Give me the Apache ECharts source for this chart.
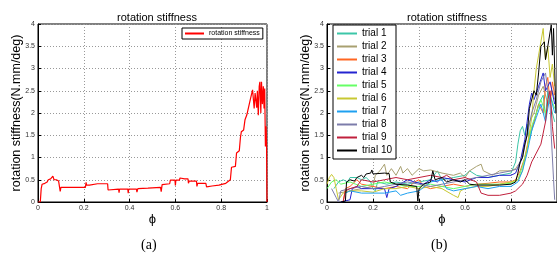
<!DOCTYPE html>
<html>
<head>
<meta charset="utf-8">
<script src="https://cdn.jsdelivr.net/npm/echarts@6/dist/echarts.min.js"></script>
<style>
  html, body { margin: 0; padding: 0; background: #fff; }
  #chart { width: 557px; height: 261px; }
</style>
</head>
<body>
<div id="chart"></div>
<script>
// (a) single run, [phi, stiffness]
const singleRun = [
  [0, 0], [0.01, 0], [0.014, 0.3], [0.018, 0.4], [0.03, 0.42], [0.04, 0.45], [0.045, 0.5],
  [0.055, 0.52], [0.065, 0.58], [0.07, 0.5], [0.08, 0.5], [0.09, 0.47], [0.096, 0.45],
  [0.097, 0.24], [0.1, 0.33], [0.15, 0.33], [0.207, 0.33], [0.21, 0.44], [0.212, 0.38],
  [0.225, 0.38], [0.23, 0.41], [0.26, 0.41], [0.304, 0.41], [0.306, 0.27], [0.31, 0.29],
  [0.352, 0.29], [0.354, 0.21], [0.356, 0.29], [0.392, 0.29], [0.394, 0.2], [0.396, 0.29],
  [0.43, 0.29], [0.432, 0.22], [0.436, 0.3], [0.48, 0.31], [0.535, 0.33], [0.538, 0.23],
  [0.542, 0.39], [0.575, 0.41], [0.578, 0.49], [0.598, 0.49], [0.6, 0.37], [0.602, 0.49],
  [0.618, 0.49], [0.62, 0.54], [0.64, 0.52], [0.655, 0.52], [0.657, 0.42], [0.66, 0.47],
  [0.692, 0.47], [0.694, 0.35], [0.697, 0.42], [0.733, 0.42], [0.736, 0.34], [0.76, 0.36],
  [0.79, 0.38], [0.82, 0.42], [0.84, 0.5], [0.845, 0.78], [0.862, 0.8], [0.867, 1.1],
  [0.879, 1.15], [0.884, 1.45], [0.888, 1.58], [0.898, 1.62], [0.904, 1.85], [0.912, 1.96],
  [0.919, 2.0], [0.927, 2.3], [0.937, 2.52], [0.944, 2.1], [0.948, 2.45], [0.955, 2.12],
  [0.958, 2.5], [0.962, 1.95], [0.966, 2.6], [0.969, 2.7], [0.973, 2.0], [0.976, 2.7],
  [0.98, 2.2], [0.984, 2.6], [0.987, 2.1], [0.99, 2.55], [0.993, 1.25], [0.996, 1.7],
  [0.998, 1.3], [1.0, 0]
];

// (b) ten trials, [phi, stiffness]
const trial1 = [
  [0.03, 0.3], [0.05, 0.45], [0.07, 0.5], [0.09, 0.45], [0.1, 0.55], [0.13, 0.55], [0.15, 0.5],
  [0.17, 0.55], [0.19, 0.45], [0.2, 0.3], [0.21, 0.25], [0.22, 0.45], [0.26, 0.4], [0.3, 0.45],
  [0.35, 0.4], [0.4, 0.45], [0.45, 0.5], [0.48, 0.7], [0.5, 0.5], [0.55, 0.55], [0.6, 0.6],
  [0.62, 0.7], [0.65, 0.6], [0.7, 0.55], [0.75, 0.6], [0.8, 0.65], [0.82, 0.9], [0.83, 1.3],
  [0.84, 1.6], [0.85, 1.7], [0.86, 1.5], [0.87, 1.75], [0.88, 1.4], [0.9, 1.8], [0.92, 2.2],
  [0.94, 2.4], [0.95, 1.9], [0.96, 2.5], [0.98, 2.0], [0.99, 1.8]
];
const trial2 = [
  [0.05, 0.2], [0.1, 0.25], [0.15, 0.3], [0.2, 0.35], [0.21, 0.6], [0.23, 0.7], [0.25, 0.85],
  [0.26, 0.6], [0.28, 0.75], [0.3, 0.6], [0.32, 0.8], [0.33, 0.65], [0.35, 0.75], [0.37, 0.6],
  [0.4, 0.75], [0.42, 0.7], [0.45, 0.72], [0.5, 0.65], [0.55, 0.6], [0.58, 0.65], [0.6, 0.55],
  [0.62, 0.7], [0.65, 0.8], [0.67, 0.85], [0.68, 0.7], [0.7, 0.65], [0.72, 0.6], [0.75, 0.7],
  [0.8, 0.7], [0.82, 0.75], [0.84, 0.9], [0.86, 1.3], [0.88, 1.8], [0.9, 2.0], [0.92, 2.4],
  [0.94, 2.6], [0.96, 2.2], [0.98, 2.5], [0.99, 2.3]
];
const trial3 = [
  [0.07, 0], [0.08, 0.3], [0.1, 0.35], [0.13, 0.5], [0.15, 0.4], [0.2, 0.35], [0.25, 0.3],
  [0.3, 0.35], [0.35, 0.3], [0.38, 0.45], [0.4, 0.5], [0.42, 0.35], [0.45, 0.3], [0.5, 0.35],
  [0.55, 0.4], [0.6, 0.35], [0.65, 0.4], [0.7, 0.42], [0.75, 0.45], [0.8, 0.45], [0.82, 0.5],
  [0.84, 0.7], [0.86, 1.0], [0.88, 1.5], [0.9, 1.8], [0.92, 2.2], [0.94, 2.0], [0.95, 2.6],
  [0.96, 2.8], [0.97, 2.2], [0.98, 2.7], [0.99, 2.4]
];
const trial4 = [
  [0.06, 0], [0.1, 0.05], [0.11, 0.3], [0.13, 0.35], [0.15, 0.3], [0.2, 0.3], [0.25, 0.3],
  [0.26, 0.1], [0.27, 0.3], [0.3, 0.35], [0.35, 0.5], [0.38, 0.45], [0.42, 0.4], [0.45, 0.5],
  [0.48, 0.45], [0.5, 0.55], [0.55, 0.5], [0.6, 0.45], [0.65, 0.55], [0.7, 0.55], [0.75, 0.6],
  [0.8, 0.6], [0.82, 0.65], [0.84, 0.9], [0.86, 1.4], [0.87, 1.8], [0.88, 2.2], [0.89, 2.45],
  [0.9, 2.3], [0.92, 2.6], [0.94, 2.9], [0.95, 2.5], [0.97, 2.7], [0.99, 2.2]
];
const trial5 = [
  [0, 0.3], [0.02, 0.45], [0.04, 0.5], [0.06, 0.4], [0.1, 0.45], [0.15, 0.35], [0.2, 0.4],
  [0.25, 0.45], [0.3, 0.4], [0.35, 0.35], [0.4, 0.35], [0.45, 0.4], [0.5, 0.35], [0.55, 0.3],
  [0.6, 0.35], [0.65, 0.4], [0.7, 0.4], [0.75, 0.4], [0.8, 0.42], [0.83, 0.5], [0.85, 0.8],
  [0.87, 1.2], [0.89, 1.7], [0.91, 2.0], [0.93, 2.3], [0.95, 2.0], [0.97, 2.4], [0.99, 2.1]
];
const trial6 = [
  [0, 0.4], [0.01, 0.55], [0.02, 0.62], [0.03, 0.55], [0.04, 0.3], [0.05, 0.05], [0.07, 0.2],
  [0.1, 0.25], [0.15, 0.25], [0.2, 0.22], [0.25, 0.3], [0.3, 0.3], [0.35, 0.35], [0.4, 0.3],
  [0.45, 0.35], [0.5, 0.3], [0.55, 0.15], [0.57, 0.1], [0.58, 0.25], [0.6, 0.3], [0.65, 0.35],
  [0.7, 0.35], [0.75, 0.4], [0.8, 0.45], [0.83, 0.5], [0.85, 0.7], [0.87, 1.2], [0.89, 1.9],
  [0.9, 2.5], [0.91, 3.0], [0.92, 3.3], [0.93, 3.6], [0.94, 3.9], [0.945, 3.5], [0.95, 3.2],
  [0.96, 3.5], [0.97, 2.8], [0.98, 3.1], [0.99, 2.6]
];
const trial7 = [
  [0.08, 0.2], [0.1, 0.25], [0.15, 0.2], [0.2, 0.2], [0.25, 0.2], [0.3, 0.25], [0.32, 0.15],
  [0.35, 0.2], [0.4, 0.25], [0.45, 0.45], [0.5, 0.5], [0.52, 0.3], [0.55, 0.25], [0.6, 0.3],
  [0.65, 0.35], [0.7, 0.3], [0.75, 0.35], [0.8, 0.35], [0.83, 0.45], [0.85, 0.7], [0.87, 1.1],
  [0.89, 1.6], [0.91, 1.9], [0.93, 2.2], [0.95, 1.8], [0.97, 2.4], [0.99, 2.0]
];
const trial8 = [
  [0.02, 0.3], [0.04, 0.1], [0.05, 0], [0.06, 0.25], [0.1, 0.3], [0.15, 0.35], [0.2, 0.3],
  [0.25, 0.35], [0.3, 0.4], [0.35, 0.45], [0.4, 0.4], [0.45, 0.35], [0.5, 0.4], [0.55, 0.45],
  [0.6, 0.5], [0.65, 0.55], [0.7, 0.6], [0.75, 0.65], [0.8, 0.7], [0.83, 0.75], [0.85, 1.0],
  [0.87, 1.5], [0.89, 2.0], [0.91, 2.3], [0.93, 2.7], [0.95, 2.9], [0.96, 2.5], [0.97, 2.2],
  [0.975, 1.5], [0.98, 1.0], [0.985, 0.5], [0.99, 0.05]
];
const trial9 = [
  [0.07, 0], [0.08, 0.25], [0.1, 0.3], [0.13, 0.35], [0.15, 0.5], [0.2, 0.45], [0.25, 0.5],
  [0.3, 0.55], [0.35, 0.5], [0.4, 0.55], [0.45, 0.6], [0.5, 0.55], [0.52, 0.6], [0.55, 0.5],
  [0.6, 0.55], [0.65, 0.45], [0.67, 0.2], [0.7, 0.15], [0.75, 0.15], [0.8, 0.2], [0.82, 0.25],
  [0.85, 0.4], [0.87, 0.6], [0.89, 0.9], [0.91, 1.1], [0.93, 1.3], [0.95, 1.8], [0.96, 2.3],
  [0.97, 2.5], [0.98, 1.7], [0.99, 1.2]
];
const trial10 = [
  [0.06, 0], [0.08, 0.02], [0.085, 0.45], [0.1, 0.5], [0.12, 0.47], [0.13, 0.55], [0.15, 0.6],
  [0.16, 0.55], [0.17, 0.63], [0.19, 0.65], [0.195, 0.72], [0.2, 0.63], [0.25, 0.65],
  [0.27, 0.64], [0.275, 0.45], [0.3, 0.4], [0.35, 0.38], [0.39, 0.35], [0.395, 0.02],
  [0.4, 0.3], [0.42, 0.4], [0.45, 0.45], [0.46, 0.7], [0.47, 0.5], [0.5, 0.55], [0.52, 0.45],
  [0.55, 0.5], [0.58, 0.45], [0.6, 0.5], [0.62, 0.4], [0.65, 0.38], [0.7, 0.38], [0.75, 0.38],
  [0.8, 0.4], [0.82, 0.45], [0.83, 0.65], [0.84, 0.9], [0.85, 1.0], [0.86, 1.3], [0.87, 1.5],
  [0.88, 2.1], [0.9, 2.5], [0.91, 2.4], [0.92, 2.9], [0.93, 3.5], [0.945, 3.6], [0.95, 3.2],
  [0.96, 3.5], [0.975, 3.98], [0.98, 3.3], [0.985, 3.9], [0.99, 3.0], [0.995, 2.0]
];

const trials = [trial1, trial2, trial3, trial4, trial5, trial6, trial7, trial8, trial9, trial10];
const trialNames = ['trial 1', 'trial 2', 'trial 3', 'trial 4', 'trial 5',
  'trial 6', 'trial 7', 'trial 8', 'trial 9', 'trial 10'];
const trialColors = ['#3cc6a8', '#a8a070', '#ff6622', '#2424d0', '#66ff66',
  '#c8c832', '#1ea0f0', '#7c7caa', '#c0203c', '#000000'];

const FONT = 'Liberation Sans';
const chart = echarts.init(document.getElementById('chart'));

function xAxisFor(gridIndex, showMax) {
  return {
    type: 'value', gridIndex, min: 0, max: 1, interval: 0.2,
    name: 'ϕ', nameLocation: 'middle', nameGap: 11, nameMoveOverlap: false,
    nameTextStyle: { fontSize: 13, color: '#000', fontFamily: FONT },
    axisLine: { lineStyle: { color: '#000', width: 1 } },
    axisTick: { inside: true, length: 3, lineStyle: { color: '#000' } },
    axisLabel: { fontSize: 7, color: '#333', margin: 3, fontFamily: FONT, showMaxLabel: showMax },
    splitLine: { show: true, lineStyle: { color: '#999', type: [1, 2] } },
  };
}

function yAxisFor(gridIndex) {
  return {
    type: 'value', gridIndex, min: 0, max: 4, interval: 0.5,
    name: 'rotation stiffness(N.mm/deg)', nameLocation: 'middle', nameGap: 15,
    nameMoveOverlap: false,
    nameTextStyle: { fontSize: 12.5, color: '#000', fontFamily: FONT },
    axisLine: { lineStyle: { color: '#000', width: 1 } },
    axisTick: { inside: true, length: 3, lineStyle: { color: '#000' } },
    axisLabel: { fontSize: 7, color: '#333', margin: 3, fontFamily: FONT },
    splitLine: { show: true, lineStyle: { color: '#999', type: [1, 2] } },
  };
}

const series = [{
  name: 'rotation stiffness',
  type: 'line',
  xAxisIndex: 0,
  yAxisIndex: 0,
  data: singleRun,
  showSymbol: false,
  lineStyle: { color: '#ff0000', width: 1.2 },
  itemStyle: { color: '#ff0000' },
}];
trials.forEach((d, i) => {
  series.push({
    name: trialNames[i],
    type: 'line',
    xAxisIndex: 1,
    yAxisIndex: 1,
    data: d,
    showSymbol: false,
    lineStyle: { color: trialColors[i], width: 1 },
    itemStyle: { color: trialColors[i] },
  });
});

chart.setOption({
  animation: false,
  backgroundColor: '#fff',
  title: [
    { text: 'rotation stiffness', left: 152, top: 7, textAlign: 'center',
      textStyle: { fontSize: 11, fontWeight: 'normal', color: '#000', fontFamily: FONT } },
    { text: 'rotation stiffness', left: 442, top: 7, textAlign: 'center',
      textStyle: { fontSize: 11, fontWeight: 'normal', color: '#000', fontFamily: FONT } },
  ],
  grid: [
    { left: 38, top: 24, width: 229, height: 178, show: true, borderColor: '#000', borderWidth: 1 },
    { left: 327, top: 24, width: 230, height: 178, show: true, borderColor: '#000', borderWidth: 1 },
  ],
  xAxis: [xAxisFor(0, true), xAxisFor(1, false)],
  yAxis: [yAxisFor(0), yAxisFor(1)],
  legend: [
    {
      data: ['rotation stiffness'], left: 182, top: 28, orient: 'horizontal',
      icon: 'rect', itemWidth: 19, itemHeight: 2, itemGap: 0, padding: [2, 3],
      borderColor: '#000', borderWidth: 1, backgroundColor: '#fff',
      textStyle: { fontSize: 7, color: '#000', fontFamily: FONT },
    },
    {
      data: trialNames, left: 333, top: 25, orient: 'vertical',
      icon: 'rect', itemWidth: 20, itemHeight: 2, itemGap: 2, padding: [3, 4],
      borderColor: '#000', borderWidth: 1, backgroundColor: '#fff',
      textStyle: { fontSize: 10, lineHeight: 11, color: '#000', fontFamily: FONT },
    },
  ],
  graphic: [
    { type: 'text', left: 141, top: 238,
      style: { text: '(a)', fontSize: 14, fontFamily: 'Liberation Serif', fill: '#000' } },
    { type: 'text', left: 431, top: 238,
      style: { text: '(b)', fontSize: 14, fontFamily: 'Liberation Serif', fill: '#000' } },
  ],
  series,
});
</script>
</body>
</html>
